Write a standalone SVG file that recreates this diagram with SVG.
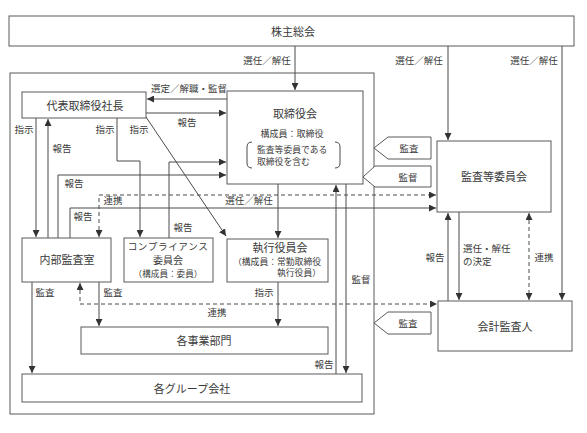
<svg xmlns="http://www.w3.org/2000/svg" width="587" height="433" viewBox="0 0 587 433">
<style>
.box{fill:#fff;stroke:#5a5a5a;stroke-width:1}
.ln{fill:none;stroke:#4a4a4a;stroke-width:1}
.ds{fill:none;stroke:#4a4a4a;stroke-width:1;stroke-dasharray:4 3}
text{font-family:"Noto Sans CJK JP","Noto Sans CJK SC",sans-serif;fill:#3a3a3a;dominant-baseline:central}
.t{font-size:11px;text-anchor:middle}
.s{font-size:9px;text-anchor:middle}
.l{font-size:9.5px;text-anchor:middle}
</style>
<defs>
<marker id="ar" markerUnits="userSpaceOnUse" markerWidth="7" markerHeight="7" viewBox="0 0 7 7" refX="7" refY="3.5" orient="auto">
<path d="M0,0 L7,3.5 L0,7 z" fill="#333"/>
</marker>
<marker id="as" markerUnits="userSpaceOnUse" markerWidth="7" markerHeight="7" viewBox="0 0 7 7" refX="0" refY="3.5" orient="auto">
<path d="M7,0 L0,3.5 L7,7 z" fill="#333"/>
</marker>
</defs>
<rect width="587" height="433" fill="#fff"/>
<rect id="outer" x="10" y="73" width="364" height="341" fill="none" stroke="#5a5a5a" stroke-width="1"/>
<g id="connectors">
<path class="ln" d="M295,46 V90" marker-end="url(#ar)"/>
<path class="ln" d="M448,46 V140" marker-end="url(#ar)"/>
<path class="ln" d="M562,46 V300" marker-end="url(#ar)"/>
<path class="ln" d="M227,99 H147" marker-end="url(#ar)"/>
<path class="ln" d="M146,113 H226" marker-end="url(#ar)"/>
<path class="ln" d="M36,118 V237" marker-end="url(#ar)"/>
<path class="ln" d="M48,238 V119" marker-end="url(#ar)"/>
<path class="ln" d="M117,118 V161 H140 V237" marker-end="url(#ar)"/>
<path class="ln" d="M146,117 L226,236" marker-end="url(#ar)"/>
<path class="ln" d="M169,238 V162 H226" marker-end="url(#ar)"/>
<path class="ln" d="M58,238 V175 H226" marker-end="url(#ar)"/>
<path class="ds" d="M99,237 V195 H436" marker-start="url(#as)" marker-end="url(#ar)"/>
<path class="ln" d="M70,238 V208 H436" marker-end="url(#ar)"/>
<path class="ln" d="M278,184 V238" marker-end="url(#ar)"/>
<path class="ln" d="M336,374 V185" marker-end="url(#ar)"/>
<path class="ln" d="M346,184 V373" marker-end="url(#ar)"/>
<path class="ln" d="M32,282 V373" marker-end="url(#ar)"/>
<path class="ln" d="M99,282 V326" marker-end="url(#ar)"/>
<path class="ds" d="M80,283 V304 H437" marker-start="url(#as)" marker-end="url(#ar)"/>
<path class="ln" d="M278,282 V326" marker-end="url(#ar)"/>
<path class="ln" d="M448,301 V213" marker-end="url(#ar)"/>
<path class="ln" d="M459,212 V300" marker-end="url(#ar)"/>
<path class="ds" d="M529,213 V300" marker-start="url(#as)" marker-end="url(#ar)"/>
</g>
<g id="labels">
<text class="l" x="267" y="60">選任／解任</text>
<text class="l" x="419" y="60">選任／解任</text>
<text class="l" x="534" y="60">選任／解任</text>
<text class="l" x="189" y="88">選定／解職・監督</text>
<text class="l" x="187" y="122">報告</text>
<text class="l" x="24" y="129">指示</text>
<text class="l" x="62" y="148">報告</text>
<text class="l" x="105" y="129">指示</text>
<text class="l" x="139" y="129">指示</text>
<text class="l" x="74" y="183">報告</text>
<text class="l" x="113" y="200">連携</text>
<text class="l" x="83" y="216">報告</text>
<text class="l" x="249" y="200">選任／解任</text>
<text class="l" x="183" y="227">報告</text>
<text class="l" x="45" y="292">監査</text>
<text class="l" x="113" y="292">監査</text>
<text class="l" x="264" y="292">指示</text>
<text class="l" x="217" y="312">連携</text>
<text class="l" x="361" y="279">監督</text>
<text class="l" x="324" y="364">報告</text>
<text class="l" x="435" y="257">報告</text>
<text class="l" x="463" y="248" style="text-anchor:start">選任・解任</text>
<text class="l" x="463" y="261" style="text-anchor:start">の決定</text>
<text class="l" x="544" y="257">連携</text>
</g>
<g id="n-kabunushi"><rect class="box" x="9" y="16" width="565" height="30"/><text class="t" x="293" y="31">株主総会</text></g>
<g id="n-daihyo"><rect class="box" x="22" y="92" width="124" height="26"/><text class="t" x="85" y="105">代表取締役社長</text></g>
<g id="n-torishimariyakukai"><rect class="box" x="227" y="91" width="136" height="93"/>
<text class="t" x="295" y="113">取締役会</text>
<text class="s" x="292" y="133">構成員：取締役</text>
<text class="s" x="257" y="149" style="text-anchor:start;font-size:8.8px">監査等委員である</text>
<text class="s" x="257" y="161" style="text-anchor:start;font-size:8.8px">取締役を含む</text>
<path class="ln" d="M252,142 Q247,142 247,147 V163 Q247,168 252,168"/>
<path class="ln" d="M335,142 Q340,142 340,147 V163 Q340,168 335,168"/>
</g>
<g id="n-kansatoiinkai"><rect class="box" x="437" y="141" width="114" height="71"/><text class="t" x="494" y="176">監査等委員会</text></g>
<g id="n-kaikei"><rect class="box" x="438" y="301" width="134" height="50"/><text class="t" x="505" y="326">会計監査人</text></g>
<g id="n-naibu"><rect class="box" x="22" y="238" width="89" height="44"/><text class="t" x="67" y="259">内部監査室</text></g>
<g id="n-compliance"><rect class="box" x="124" y="238" width="89" height="44"/>
<text class="s" x="168" y="245.5" style="font-size:9.6px;letter-spacing:0.6px">コンプライアンス</text>
<text class="s" x="168" y="259.7" style="font-size:10px">委員会</text>
<text class="s" x="168" y="273.2" style="font-size:8.6px">（構成員：委員）</text>
</g>
<g id="n-shikko"><rect class="box" x="227" y="239" width="101" height="43"/>
<text class="t" x="280" y="247">執行役員会</text>
<text class="s" x="233" y="261" style="text-anchor:start;font-size:8.8px">（構成員：常勤取締役</text>
<text class="s" x="277" y="272.5" style="text-anchor:start;font-size:8.8px">執行役員）</text>
</g>
<g id="n-jigyo"><rect class="box" x="81" y="327" width="247" height="27"/><text class="t" x="204" y="340">各事業部門</text></g>
<g id="n-group"><rect class="box" x="22" y="374" width="340" height="28"/><text class="t" x="192" y="388">各グループ会社</text></g>
<g id="tag-kansa1"><path class="box" d="M374,148 L388,137 H431 V159 H388 Z"/><text class="l" x="409" y="148">監査</text></g>
<g id="tag-kantoku"><path class="box" d="M363,177 L375,166 H431 V187 H375 Z"/><text class="l" x="408" y="177">監督</text></g>
<g id="tag-kansa2"><path class="box" d="M374,323 L388,312 H431 V334 H388 Z"/><text class="l" x="408" y="323">監査</text></g>
</svg>
